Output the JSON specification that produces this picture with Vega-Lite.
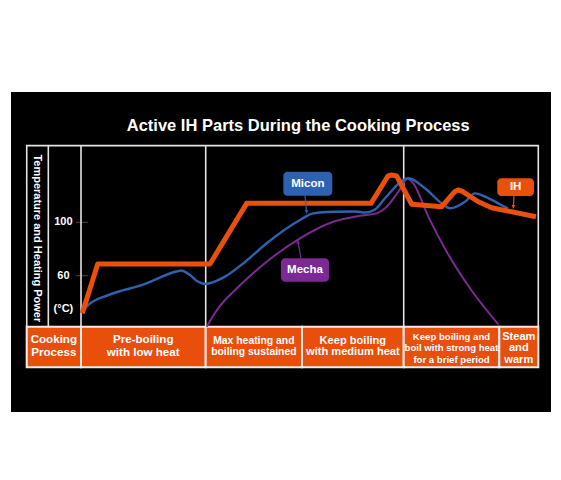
{
  "$schema": "https://vega.github.io/schema/vega-lite/v6.json",
  "width": 540,
  "height": 320,
  "autosize": {"type": "none"},
  "padding": {"left": 11, "top": 92, "right": 10, "bottom": 68},
  "background": "white",
  "config": {"view": {"fill": "black", "stroke": null}, "font": "Liberation Sans"},
  "datasets": {
    "curves": [
      {"series": "IH", "t": 0.28, "temp": 31.8},
      {"series": "IH", "t": 3.65, "temp": 68.8},
      {"series": "IH", "t": 28.21, "temp": 68.8},
      {"series": "IH", "t": 36.23, "temp": 114.2},
      {"series": "IH", "t": 63.42, "temp": 114.2},
      {"series": "IH", "t": 67.13, "temp": 134.7},
      {"series": "IH", "t": 67.94, "temp": 135.4},
      {"series": "IH", "t": 69.03, "temp": 134.7},
      {"series": "IH", "t": 72.31, "temp": 113.5},
      {"series": "IH", "t": 78.88, "temp": 111.7},
      {"series": "IH", "t": 81.78, "temp": 123.1},
      {"series": "IH", "t": 82.5, "temp": 124.2},
      {"series": "IH", "t": 83.31, "temp": 123.4},
      {"series": "IH", "t": 86.88, "temp": 115.4},
      {"series": "IH", "t": 89.81, "temp": 110.9},
      {"series": "IH", "t": 99.5, "temp": 104.2},
      {"series": "Micon", "t": 0.28, "temp": 32.3},
      {"series": "Micon", "t": 1.6, "temp": 38.1},
      {"series": "Micon", "t": 5.97, "temp": 45.5},
      {"series": "Micon", "t": 13.27, "temp": 53.0},
      {"series": "Micon", "t": 21.28, "temp": 63.5},
      {"series": "Micon", "t": 21.87, "temp": 63.9},
      {"series": "Micon", "t": 23.84, "temp": 60.5},
      {"series": "Micon", "t": 25.37, "temp": 56.0},
      {"series": "Micon", "t": 27.12, "temp": 53.8},
      {"series": "Micon", "t": 31.49, "temp": 59.3},
      {"series": "Micon", "t": 35.86, "temp": 70.3},
      {"series": "Micon", "t": 40.61, "temp": 84.3},
      {"series": "Micon", "t": 47.89, "temp": 101.7},
      {"series": "Micon", "t": 50.8, "temp": 106.7},
      {"series": "Micon", "t": 55.17, "temp": 107.9},
      {"series": "Micon", "t": 59.9, "temp": 108.1},
      {"series": "Micon", "t": 62.1, "temp": 107.3},
      {"series": "Micon", "t": 64.28, "temp": 109.6},
      {"series": "Micon", "t": 66.48, "temp": 118.0},
      {"series": "Micon", "t": 70.85, "temp": 132.4},
      {"series": "Micon", "t": 71.57, "temp": 133.0},
      {"series": "Micon", "t": 75.22, "temp": 125.5},
      {"series": "Micon", "t": 78.88, "temp": 114.2},
      {"series": "Micon", "t": 80.7, "temp": 110.5},
      {"series": "Micon", "t": 83.97, "temp": 115.4},
      {"series": "Micon", "t": 86.16, "temp": 121.7},
      {"series": "Micon", "t": 88.34, "temp": 119.2},
      {"series": "Micon", "t": 91.25, "temp": 114.2},
      {"series": "Micon", "t": 93.37, "temp": 110.3},
      {"series": "Mecha", "t": 27.49, "temp": 21.8},
      {"series": "Mecha", "t": 29.3, "temp": 32.1},
      {"series": "Mecha", "t": 31.49, "temp": 41.8},
      {"series": "Mecha", "t": 33.3, "temp": 48.0},
      {"series": "Mecha", "t": 40.61, "temp": 70.5},
      {"series": "Mecha", "t": 47.89, "temp": 88.0},
      {"series": "Mecha", "t": 55.17, "temp": 100.4},
      {"series": "Mecha", "t": 61.01, "temp": 104.9},
      {"series": "Mecha", "t": 64.66, "temp": 106.7},
      {"series": "Mecha", "t": 66.48, "temp": 110.5},
      {"series": "Mecha", "t": 69.39, "temp": 122.9},
      {"series": "Mecha", "t": 71.4, "temp": 132.7},
      {"series": "Mecha", "t": 72.66, "temp": 129.2},
      {"series": "Mecha", "t": 75.95, "temp": 104.2},
      {"series": "Mecha", "t": 79.97, "temp": 78.0},
      {"series": "Mecha", "t": 85.06, "temp": 50.6},
      {"series": "Mecha", "t": 91.25, "temp": 23.6}
    ],
    "cells": [
      {"t": -11.87, "t2": 0, "temp": -8.6, "temp2": 21.8},
      {"t": 0, "t2": 27.27, "temp": -8.6, "temp2": 21.8},
      {"t": 27.27, "t2": 48.33, "temp": -8.6, "temp2": 21.8},
      {"t": 48.33, "t2": 70.57, "temp": -8.6, "temp2": 21.8},
      {"t": 70.57, "t2": 91.47, "temp": -8.6, "temp2": 21.8},
      {"t": 91.47, "t2": 100, "temp": -8.6, "temp2": 21.8}
    ],
    "band": [
      {"cell": "process", "t": -5.94, "temp": 11.5, "label": "Cooking\nProcess"},
      {"cell": "pre", "t": 13.6, "temp": 11.5, "label": "Pre-boiling\nwith low heat"},
      {"cell": "max", "t": 37.8, "temp": 11.3, "label": "Max heating and\nboiling sustained"},
      {"cell": "medium", "t": 59.45, "temp": 11.3, "label": "Keep boiling\nwith medium heat"},
      {"cell": "strong", "t": 81.02, "temp": 14.3, "label": "Keep boiling and\nboil with strong heat\nfor a brief period"},
      {"cell": "steam", "t": 95.74, "temp": 14.3, "label": "Steam\nand\nwarm"}
    ],
    "vlines": [
      {"t": -7.15, "temp": 21.8, "temp2": 157.4},
      {"t": 0, "temp": 21.8, "temp2": 157.4},
      {"t": 27.27, "temp": 21.8, "temp2": 157.4},
      {"t": 70.57, "temp": 21.8, "temp2": 157.4}
    ],
    "boxes": [
      {"series": "Micon", "t": 44.24, "t2": 54.95, "temp": 137.9, "temp2": 119.9, "tc": 49.6, "tt": 128.9},
      {"series": "Mecha", "t": 43.73, "t2": 54.23, "temp": 73.0, "temp2": 55.5, "tc": 48.98, "tt": 64.3},
      {"series": "IH", "t": 91.03, "t2": 99.06, "temp": 133.0, "temp2": 119.7, "tc": 95.05, "tt": 126.3}
    ],
    "pointers": [
      {"series": "Micon", "t": 48.98, "temp": 119.9, "t2": 49.35, "temp2": 106.6, "ht": 49.33, "htemp": 107.9, "dir": "down"},
      {"series": "Mecha", "t": 48.11, "temp": 73.0, "t2": 47.39, "temp2": 86.7, "ht": 47.43, "htemp": 85.4, "dir": "up"},
      {"series": "IH", "t": 94.69, "temp": 119.7, "t2": 94.53, "temp2": 110.3, "ht": 94.55, "htemp": 111.7, "dir": "down"}
    ]
  },
  "encoding": {
    "x": {"field": "t", "type": "quantitative", "scale": {"domain": [-15.31, 102.78], "nice": false, "zero": false}, "axis": null},
    "y": {"field": "temp", "type": "quantitative", "scale": {"domain": [-42.1, 197.6], "nice": false, "zero": false}, "axis": null}
  },
  "layer": [
    {
      "data": {"values": [{"t": -1.1, "t2": 1.5, "temp": 100}, {"t": -1.1, "t2": 1.5, "temp": 60}]},
      "mark": {"type": "rule", "stroke": "#4a4a4a", "strokeWidth": 1},
      "encoding": {"x2": {"field": "t2"}}
    },
    {
      "data": {"values": [{"t": -11.87, "t2": 100, "temp": -8.6, "temp2": 157.4}]},
      "mark": {"type": "rect", "filled": false, "stroke": "#e4e4e4", "strokeWidth": 1.6},
      "encoding": {"x2": {"field": "t2"}, "y2": {"field": "temp2"}}
    },
    {
      "data": {"name": "vlines"},
      "mark": {"type": "rule", "stroke": "#e4e4e4", "strokeWidth": 1.6},
      "encoding": {"y2": {"field": "temp2"}}
    },
    {
      "data": {"name": "cells"},
      "mark": {"type": "rect", "fill": "#e84e0c", "stroke": "#ececec", "strokeWidth": 2},
      "encoding": {"x2": {"field": "t2"}, "y2": {"field": "temp2"}}
    },
    {
      "data": {"name": "band"},
      "transform": [{"filter": "datum.cell === 'process' || datum.cell === 'pre'"}],
      "mark": {"type": "text", "color": "white", "fontWeight": "bold", "fontSize": 11.6, "lineHeight": 12.2, "lineBreak": "\n", "align": "center", "baseline": "middle"},
      "encoding": {"text": {"field": "label"}}
    },
    {
      "data": {"name": "band"},
      "transform": [{"filter": "datum.cell === 'medium' || datum.cell === 'steam'"}],
      "mark": {"type": "text", "color": "white", "fontWeight": "bold", "fontSize": 11.1, "lineHeight": 11.6, "lineBreak": "\n", "align": "center", "baseline": "middle"},
      "encoding": {"text": {"field": "label"}}
    },
    {
      "data": {"name": "band"},
      "transform": [{"filter": "datum.cell === 'max'"}],
      "mark": {"type": "text", "color": "white", "fontWeight": "bold", "fontSize": 10.4, "lineHeight": 11.6, "lineBreak": "\n", "align": "center", "baseline": "middle"},
      "encoding": {"text": {"field": "label"}}
    },
    {
      "data": {"name": "band"},
      "transform": [{"filter": "datum.cell === 'strong'"}],
      "mark": {"type": "text", "color": "white", "fontWeight": "bold", "fontSize": 9.6, "lineHeight": 11.6, "lineBreak": "\n", "align": "center", "baseline": "middle"},
      "encoding": {"text": {"field": "label"}}
    },
    {
      "data": {"values": [{"t": -3.85, "temp": 100, "label": "100"}, {"t": -3.85, "temp": 60, "label": "60"}, {"t": -3.85, "temp": 34.8, "label": "(°C)"}]},
      "mark": {"type": "text", "color": "white", "fontWeight": "bold", "fontSize": 11, "align": "center", "baseline": "middle"},
      "encoding": {"text": {"field": "label"}}
    },
    {
      "data": {"values": [{"t": -9.69, "temp": 88, "label": "Temperature and Heating Power"}]},
      "mark": {"type": "text", "color": "white", "fontWeight": "bold", "fontSize": 11, "angle": 90, "align": "center", "baseline": "middle"},
      "encoding": {"text": {"field": "label"}}
    },
    {
      "data": {"values": [{"t": 47.5, "temp": 171.8, "label": "Active IH Parts During the Cooking Process"}]},
      "mark": {"type": "text", "color": "white", "fontWeight": "bold", "fontSize": 16.5, "align": "center", "baseline": "middle"},
      "encoding": {"text": {"field": "label"}}
    },
    {
      "data": {"name": "curves"},
      "transform": [{"filter": "datum.series === 'Mecha'"}],
      "mark": {"type": "line", "interpolate": "monotone", "strokeWidth": 2},
      "encoding": {
        "color": {"field": "series", "type": "nominal", "scale": {"domain": ["IH", "Micon", "Mecha"], "range": ["#e8500c", "#2e62b0", "#7c2a93"]}, "legend": null}
      }
    },
    {
      "data": {"name": "curves"},
      "transform": [{"filter": "datum.series === 'Micon'"}],
      "mark": {"type": "line", "interpolate": "monotone", "strokeWidth": 2.4},
      "encoding": {"color": {"field": "series", "type": "nominal", "legend": null}}
    },
    {
      "data": {"name": "curves"},
      "transform": [{"filter": "datum.series === 'IH'"}],
      "mark": {"type": "line", "interpolate": "linear", "strokeWidth": 5, "strokeJoin": "round"},
      "encoding": {"color": {"field": "series", "type": "nominal", "legend": null}}
    },
    {
      "data": {"name": "pointers"},
      "mark": {"type": "rule", "strokeWidth": 1.2},
      "encoding": {"x2": {"field": "t2"}, "y2": {"field": "temp2"}, "color": {"field": "series", "type": "nominal", "legend": null}}
    },
    {
      "data": {"name": "pointers"},
      "mark": {"type": "point", "filled": true, "size": 14, "opacity": 1},
      "encoding": {
        "x": {"field": "ht", "type": "quantitative"},
        "y": {"field": "htemp", "type": "quantitative"},
        "shape": {"field": "dir", "type": "nominal", "scale": {"domain": ["down", "up"], "range": ["triangle-down", "triangle-up"]}, "legend": null},
        "color": {"field": "series", "type": "nominal", "legend": null}
      }
    },
    {
      "data": {"name": "boxes"},
      "mark": {"type": "rect", "cornerRadius": 4},
      "encoding": {"x2": {"field": "t2"}, "y2": {"field": "temp2"}, "color": {"field": "series", "type": "nominal", "legend": null}}
    },
    {
      "data": {"name": "boxes"},
      "mark": {"type": "text", "color": "white", "fontWeight": "bold", "fontSize": 11.5, "align": "center", "baseline": "middle"},
      "encoding": {
        "x": {"field": "tc", "type": "quantitative"},
        "y": {"field": "tt", "type": "quantitative"},
        "text": {"field": "series"}
      }
    }
  ]
}
